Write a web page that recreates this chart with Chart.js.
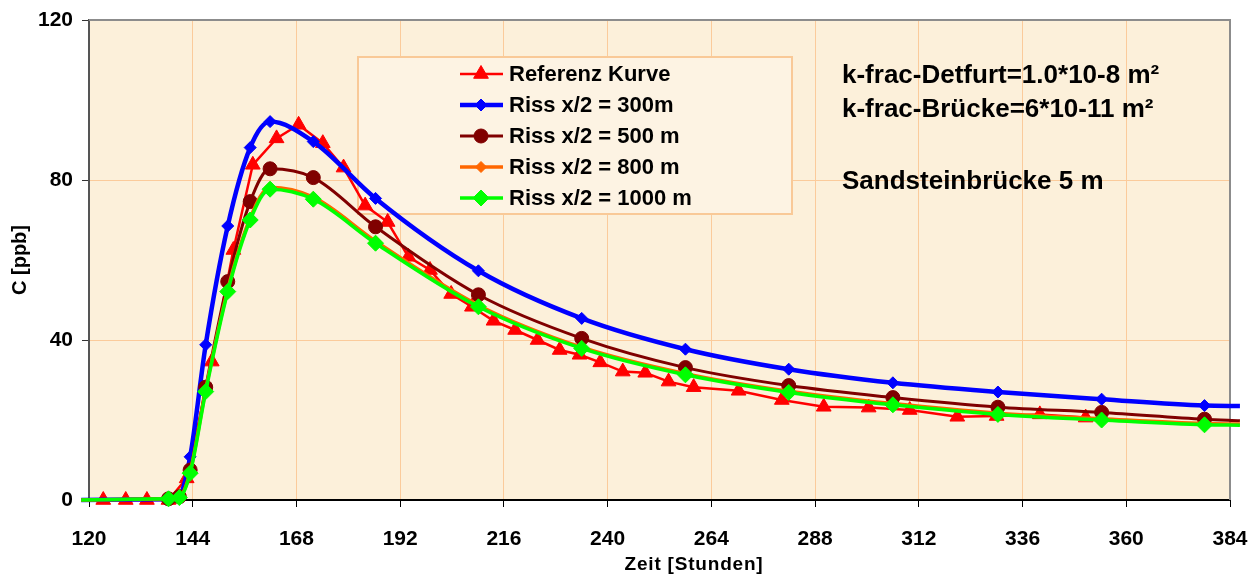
<!DOCTYPE html>
<html>
<head>
<meta charset="utf-8">
<title>C [ppb] – Zeit [Stunden]</title>
<script src="https://cdn.jsdelivr.net/npm/chart.js@4/dist/chart.umd.min.js"></script>
<style>
  html, body { margin: 0; padding: 0; background: #fff; }
  #wrap { width: 1259px; height: 576px; }
</style>
</head>
<body>
<div id="wrap"><canvas id="chart" width="1259" height="576"></canvas></div>
<script>
// Referenz Kurve (measured)
const refHours = [123.3, 128.5, 133.4, 138.4, 142.6, 148.4, 153.4, 157.9, 163.4, 168.5, 174.1, 178.9, 183.9, 189.1,
  193.9, 198.9, 203.8, 208.6, 213.6, 218.6, 223.8, 228.9, 233.5, 238.3, 243.5, 248.7, 254.1, 259.9, 270.3, 280.3,
  290.0, 300.4, 309.9, 320.9, 330.0, 340.0, 350.6];
const refValues = [0, 0, 0, 0, 5.4, 34.6, 62.5, 83.8, 90.4, 93.8, 89.2, 83.1, 73.6, 69.5,
  60.8, 57.5, 51.5, 48.3, 44.8, 42.5, 40.0, 37.5, 36.3, 34.4, 32.1, 31.8, 29.6, 28.2, 27.3, 25.0,
  23.3, 23.1, 22.5, 20.8, 21.0, 21.4, 20.6];

// model runs, all on the same time steps
const simHours = [118.2, 138.4, 140.9, 143.4, 147.0, 152.1, 157.3, 161.9, 171.9, 186.3, 210.1, 234.0, 258.0,
  281.9, 306.0, 330.3, 354.3, 378.1, 386.3];
const riss300 = [0, 0.2, 1.0, 10.8, 38.8, 68.5, 88.1, 94.6, 89.6, 75.4, 57.3, 45.4, 37.7, 32.7, 29.3, 27.0, 25.2, 23.6, 23.5];
const riss500 = [0, 0.3, 0.8, 7.5, 28.2, 54.6, 74.6, 82.8, 80.6, 68.3, 51.3, 40.4, 33.1, 28.6, 25.6, 23.2, 21.9, 20.2, 19.8];
const riss800 = [0, 0.3, 0.7, 7.0, 27.6, 52.6, 70.5, 78.2, 75.7, 64.7, 48.7, 38.2, 31.6, 27.2, 24.1, 21.7, 20.3, 19.1, 19.0];
const riss1000 = [0, 0.3, 0.6, 6.7, 27.1, 52.1, 70.0, 77.7, 75.2, 64.2, 48.3, 37.9, 31.3, 26.9, 23.8, 21.4, 20.0, 18.8, 18.7];

const seriesLabels = ['Referenz Kurve', 'Riss x/2 = 300m', 'Riss x/2 = 500 m', 'Riss x/2 = 800 m', 'Riss x/2 = 1000 m'];
const xTicks = { min: 120, max: 384, step: 24 };
const yTicks = { min: 0, max: 120, step: 40 };
const xTitle = 'Zeit [Stunden]';
const yTitle = 'C [ppb]';

const notes = ['k-frac-Detfurt=1.0*10-8 m\u00B2', 'k-frac-Br\u00FCcke=6*10-11 m\u00B2', 'Sandsteinbr\u00FCcke 5 m'];

const FONT = "'Liberation Sans', Arial, sans-serif";

function toPoints(xs, ys) {
  return xs.map((x, i) => ({ x, y: ys[i] }));
}

// sims only carry markers on the inner time steps
function simRadius(r) {
  return ctx => {
    const x = ctx.raw ? ctx.raw.x : 0;
    return (x < 130 || x > 380) ? 0 : r;
  };
}

const styles = [
  { color: '#FF0000', width: 2.5, point: 'triangle', radius: 8.5, order: 5 },
  { color: '#0000FF', width: 4.5, point: 'rectRot', radius: 6, order: 4 },
  { color: '#800000', width: 3, point: 'circle', radius: 7, order: 3 },
  { color: '#FF6600', width: 3.5, point: 'rectRot', radius: 5.5, order: 2 },
  { color: '#00FF00', width: 3.5, point: 'rectRot', radius: 8, order: 1 }
];

function makeDataset(i, points, isSim) {
  const s = styles[i];
  return {
    label: seriesLabels[i],
    data: points,
    borderColor: s.color,
    backgroundColor: s.color,
    borderWidth: s.width,
    pointStyle: s.point,
    pointRadius: isSim ? simRadius(s.radius) : s.radius,
    pointBorderWidth: 1,
    pointBorderColor: s.color,
    pointBackgroundColor: s.color,
    tension: isSim ? 0.4 : 0,
    cubicInterpolationMode: isSim ? 'monotone' : 'default',
    order: s.order,
    clip: false
  };
}

const plotBackground = {
  id: 'plotBackground',
  beforeDraw(chart) {
    const { ctx, chartArea: a } = chart;
    ctx.save();
    ctx.fillStyle = '#FCF0DA';
    ctx.fillRect(a.left, a.top, a.right - a.left, a.bottom - a.top);
    ctx.restore();
  },
  beforeDatasetsDraw(chart) {
    const { ctx, chartArea: a } = chart;
    ctx.save();
    // legend frame sits under the curves
    ctx.fillStyle = '#FDF3E3';
    ctx.strokeStyle = '#F9C997';
    ctx.lineWidth = 2;
    ctx.fillRect(358, 57, 434, 157);
    ctx.strokeRect(358, 57, 434, 157);

    ctx.strokeStyle = '#8C8C8C';
    ctx.lineWidth = 2;
    ctx.beginPath();
    ctx.moveTo(a.left, a.top);
    ctx.lineTo(a.right, a.top);
    ctx.lineTo(a.right, a.bottom);
    ctx.stroke();
    ctx.restore();
  }
};

const boxLegend = {
  id: 'boxLegend',
  afterDraw(chart) {
    const ctx = chart.ctx;
    ctx.save();
    const rows = [74, 105, 136, 167, 198];
    ctx.font = 'bold 22px ' + FONT;
    ctx.textBaseline = 'middle';
    ctx.textAlign = 'left';
    seriesLabels.forEach((label, i) => {
      const s = styles[i];
      const y = rows[i];
      ctx.strokeStyle = s.color;
      ctx.lineWidth = s.width;
      ctx.beginPath();
      ctx.moveTo(460, y);
      ctx.lineTo(503, y);
      ctx.stroke();
      ctx.fillStyle = s.color;
      ctx.lineWidth = 1;
      Chart.helpers.drawPoint(ctx, { pointStyle: s.point, rotation: 0, radius: s.radius, borderWidth: 1 }, 481, y);
      ctx.fillStyle = '#000';
      ctx.fillText(label, 509, y + 1);
    });

    ctx.font = 'bold 26px ' + FONT;
    ctx.textBaseline = 'alphabetic';
    ctx.fillStyle = '#000';
    const baselines = [83, 117, 189];
    notes.forEach((t, i) => ctx.fillText(t, 842, baselines[i]));

    // x axis title, placed right of centre as in the original
    ctx.font = 'bold 19px ' + FONT;
    ctx.letterSpacing = '0.8px';
    ctx.textAlign = 'center';
    ctx.textBaseline = 'middle';
    ctx.fillText(xTitle, 694, 565);
    ctx.restore();
  }
};

document.addEventListener('DOMContentLoaded', () => {
  const datasets = [
    makeDataset(0, toPoints(refHours, refValues), false),
    makeDataset(1, toPoints(simHours, riss300), true),
    makeDataset(2, toPoints(simHours, riss500), true),
    makeDataset(3, toPoints(simHours, riss800), true),
    makeDataset(4, toPoints(simHours, riss1000), true)
  ];

  new Chart(document.getElementById('chart'), {
    type: 'line',
    data: { datasets },
    plugins: [plotBackground, boxLegend],
    options: {
      responsive: false,
      animation: false,
      devicePixelRatio: 1,
      events: [],
      layout: { padding: { left: 0, right: 29, top: 20, bottom: 0 } },
      plugins: {
        legend: { display: false },
        tooltip: { enabled: false }
      },
      scales: {
        x: {
          type: 'linear',
          min: xTicks.min,
          max: xTicks.max,
          afterFit: s => { s.height = 76; s.paddingLeft = 0; s.paddingRight = 0; },
          ticks: {
            stepSize: xTicks.step,
            padding: 20,
            color: '#000',
            font: { family: FONT, size: 21, weight: 'bold' }
          },
          grid: { color: '#FBCB9B', lineWidth: 1, tickColor: '#000', tickLength: 7 },
          border: { color: '#000', width: 2 },
          title: { display: false }
        },
        y: {
          min: yTicks.min,
          max: yTicks.max,
          afterFit: s => { s.width = 89; s.paddingTop = 0; s.paddingBottom = 0; },
          ticks: {
            stepSize: yTicks.step,
            padding: 9,
            color: '#000',
            font: { family: FONT, size: 21, weight: 'bold' }
          },
          grid: { color: '#FBCB9B', lineWidth: 1, tickColor: '#333', tickLength: 7 },
          border: { color: '#555', width: 2 },
          title: {
            display: true,
            text: yTitle,
            color: '#000',
            padding: { top: 8, bottom: 0 },
            font: { family: FONT, size: 20, weight: 'bold' }
          }
        }
      }
    }
  });
});
</script>
</body>
</html>
